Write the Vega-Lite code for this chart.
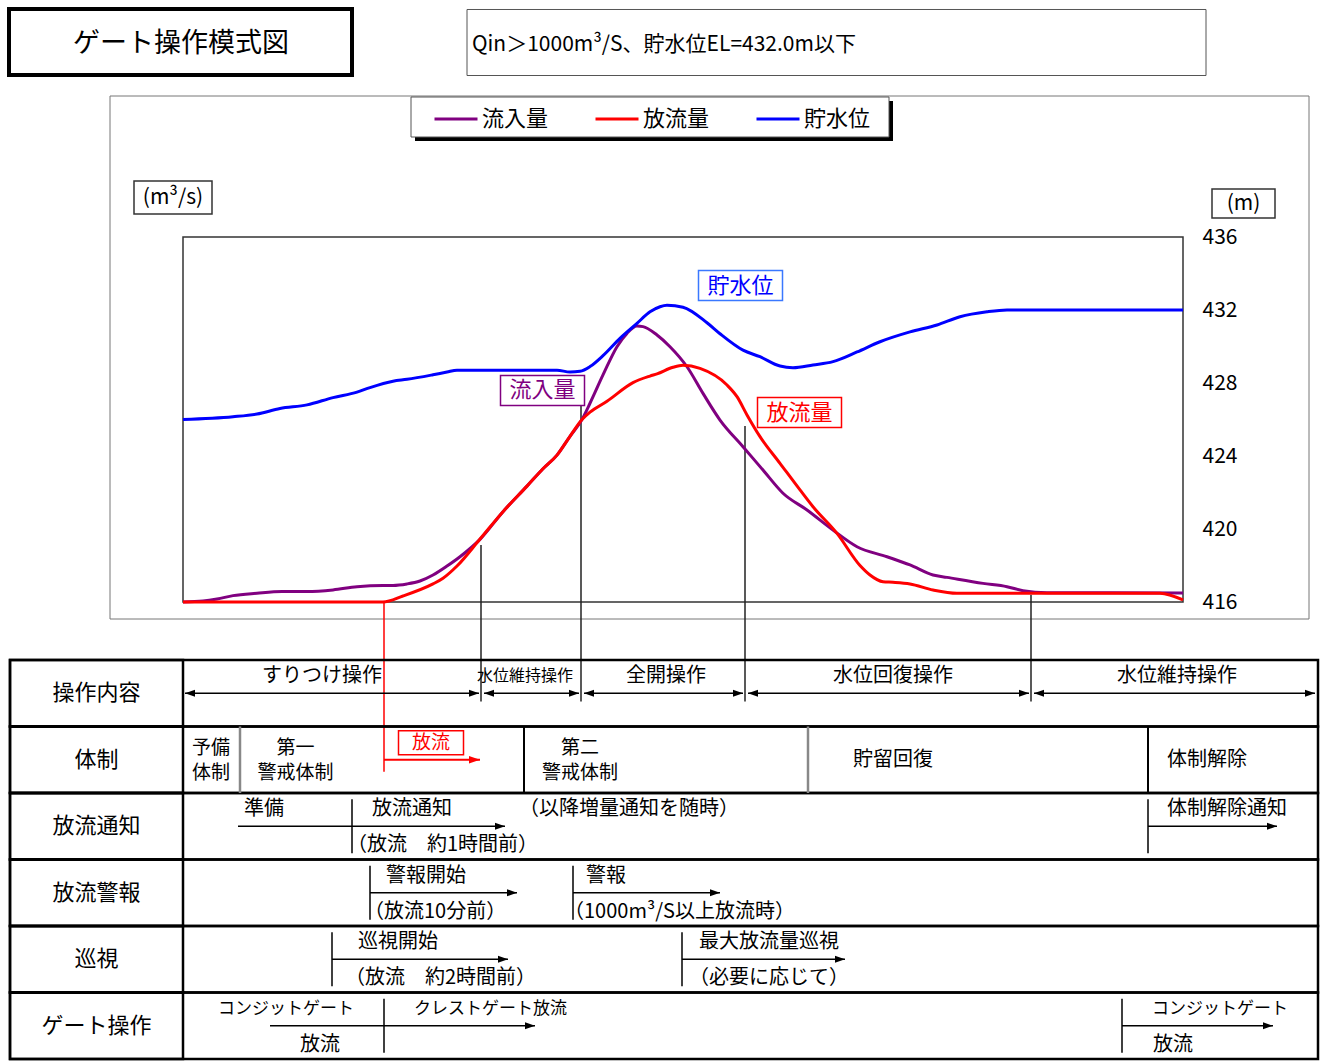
{
"$schema":"https://vega.github.io/schema/vega-lite/v6.json",
"usermeta":{"embedOptions":{"actions":false}},
"background":"white",
"width":1000,"height":365,
"autosize":{"type":"none"},
"padding":{"left":183,"top":237,"right":141,"bottom":459},
"view":{"stroke":"#333","strokeWidth":1.5},
"config":{"font":"Noto Sans CJK JP"},
"datasets":{
"flow":[
{"t":0,"q":0,"series":"流入量"},{"t":2.0,"q":5,"series":"流入量"},{"t":3.4,"q":16,"series":"流入量"},{"t":5.0,"q":35,"series":"流入量"},{"t":7.4,"q":48,"series":"流入量"},{"t":9.9,"q":57,"series":"流入量"},{"t":12.4,"q":57,"series":"流入量"},{"t":15.0,"q":66,"series":"流入量"},{"t":17.4,"q":84,"series":"流入量"},{"t":20.0,"q":91,"series":"流入量"},{"t":21.0,"q":91,"series":"流入量"},{"t":22.4,"q":99,"series":"流入量"},{"t":23.7,"q":115,"series":"流入量"},{"t":25.0,"q":148,"series":"流入量"},{"t":26.4,"q":197,"series":"流入量"},{"t":27.7,"q":248,"series":"流入量"},{"t":29.7,"q":343,"series":"流入量"},{"t":32.0,"q":495,"series":"流入量"},{"t":34.4,"q":635,"series":"流入量"},{"t":36.0,"q":730,"series":"流入量"},{"t":37.4,"q":805,"series":"流入量"},{"t":38.7,"q":908,"series":"流入量"},{"t":39.9,"q":1000,"series":"流入量"},{"t":40.7,"q":1089,"series":"流入量"},{"t":42.0,"q":1244,"series":"流入量"},{"t":43.4,"q":1399,"series":"流入量"},{"t":44.4,"q":1472,"series":"流入量"},{"t":45.4,"q":1512,"series":"流入量"},{"t":46.0,"q":1509,"series":"流入量"},{"t":47.4,"q":1463,"series":"流入量"},{"t":48.7,"q":1399,"series":"流入量"},{"t":50.4,"q":1289,"series":"流入量"},{"t":52.0,"q":1143,"series":"流入量"},{"t":53.7,"q":997,"series":"流入量"},{"t":56.0,"q":851,"series":"流入量"},{"t":58.0,"q":723,"series":"流入量"},{"t":60.0,"q":596,"series":"流入量"},{"t":62.4,"q":504,"series":"流入量"},{"t":65.0,"q":394,"series":"流入量"},{"t":67.4,"q":303,"series":"流入量"},{"t":70.4,"q":248,"series":"流入量"},{"t":72.7,"q":203,"series":"流入量"},{"t":75.0,"q":148,"series":"流入量"},{"t":76.4,"q":135,"series":"流入量"},{"t":80.0,"q":102,"series":"流入量"},{"t":82.4,"q":84,"series":"流入量"},{"t":84.0,"q":62,"series":"流入量"},{"t":86.4,"q":51,"series":"流入量"},{"t":100,"q":50,"series":"流入量"},
{"t":0,"q":0,"series":"放流量"},{"t":20.0,"q":0,"series":"放流量"},{"t":22.0,"q":33,"series":"放流量"},{"t":25.0,"q":99,"series":"放流量"},{"t":26.0,"q":130,"series":"放流量"},{"t":27.4,"q":197,"series":"放流量"},{"t":29.7,"q":345,"series":"放流量"},{"t":32.0,"q":495,"series":"放流量"},{"t":34.4,"q":635,"series":"放流量"},{"t":36.0,"q":730,"series":"放流量"},{"t":37.4,"q":805,"series":"放流量"},{"t":38.7,"q":908,"series":"放流量"},{"t":39.9,"q":1000,"series":"放流量"},{"t":40.7,"q":1040,"series":"放流量"},{"t":42.4,"q":1100,"series":"放流量"},{"t":45.0,"q":1202,"series":"放流量"},{"t":46.7,"q":1238,"series":"放流量"},{"t":47.4,"q":1250,"series":"放流量"},{"t":49.0,"q":1286,"series":"放流量"},{"t":50.0,"q":1297,"series":"放流量"},{"t":51.7,"q":1280,"series":"放流量"},{"t":54.4,"q":1189,"series":"放流量"},{"t":55.4,"q":1125,"series":"放流量"},{"t":56.4,"q":1025,"series":"放流量"},{"t":57.7,"q":906,"series":"放流量"},{"t":59.7,"q":760,"series":"放流量"},{"t":61.7,"q":614,"series":"放流量"},{"t":63.0,"q":522,"series":"放流量"},{"t":65.4,"q":376,"series":"放流量"},{"t":67.7,"q":200,"series":"放流量"},{"t":68.7,"q":148,"series":"放流量"},{"t":70.0,"q":111,"series":"放流量"},{"t":71.0,"q":108,"series":"放流量"},{"t":72.7,"q":99,"series":"放流量"},{"t":75.0,"q":66,"series":"放流量"},{"t":77.4,"q":48,"series":"放流量"},{"t":97.7,"q":48,"series":"放流量"},{"t":100,"q":11,"series":"放流量"}
],
"level":[
{"t":0,"h":426.0,"series":"貯水位"},{"t":5.0,"h":426.15,"series":"貯水位"},{"t":7.4,"h":426.3,"series":"貯水位"},{"t":9.7,"h":426.6,"series":"貯水位"},{"t":12.4,"h":426.8,"series":"貯水位"},{"t":15.0,"h":427.2,"series":"貯水位"},{"t":17.4,"h":427.5,"series":"貯水位"},{"t":18.7,"h":427.75,"series":"貯水位"},{"t":21.0,"h":428.1,"series":"貯水位"},{"t":22.4,"h":428.2,"series":"貯水位"},{"t":25.0,"h":428.45,"series":"貯水位"},{"t":26.4,"h":428.6,"series":"貯水位"},{"t":27.4,"h":428.7,"series":"貯水位"},{"t":37.4,"h":428.7,"series":"貯水位"},{"t":38.7,"h":428.6,"series":"貯水位"},{"t":39.7,"h":428.64,"series":"貯水位"},{"t":40.7,"h":428.9,"series":"貯水位"},{"t":42.0,"h":429.5,"series":"貯水位"},{"t":43.7,"h":430.45,"series":"貯水位"},{"t":45.4,"h":431.27,"series":"貯水位"},{"t":46.7,"h":431.9,"series":"貯水位"},{"t":47.7,"h":432.18,"series":"貯水位"},{"t":48.4,"h":432.26,"series":"貯水位"},{"t":50.0,"h":432.15,"series":"貯水位"},{"t":52.4,"h":431.3,"series":"貯水位"},{"t":53.7,"h":430.7,"series":"貯水位"},{"t":56.0,"h":429.8,"series":"貯水位"},{"t":57.7,"h":429.44,"series":"貯水位"},{"t":59.7,"h":428.93,"series":"貯水位"},{"t":61.0,"h":428.84,"series":"貯水位"},{"t":63.0,"h":428.99,"series":"貯水位"},{"t":65.0,"h":429.17,"series":"貯水位"},{"t":67.4,"h":429.7,"series":"貯水位"},{"t":69.7,"h":430.26,"series":"貯水位"},{"t":72.7,"h":430.8,"series":"貯水位"},{"t":75.4,"h":431.18,"series":"貯水位"},{"t":77.7,"h":431.63,"series":"貯水位"},{"t":80.4,"h":431.9,"series":"貯水位"},{"t":82.4,"h":432.0,"series":"貯水位"},{"t":100,"h":432.0,"series":"貯水位"}
],
"switches":[{"t":29.8,"q":312},{"t":39.8,"q":1096},{"t":56.2,"q":964},{"t":84.8,"q":40}],
"release":[{"t":20.1,"event":"放流開始"}],
"seriesLabels":[{"series":"貯水位","t":55.75,"q":1734},{"series":"流入量","t":35.95,"q":1159},{"series":"放流量","t":61.65,"q":1038}],
"rows":[{"row":"操作内容"},{"row":"体制"},{"row":"放流通知"},{"row":"放流警報"},{"row":"巡視"},{"row":"ゲート操作"}],
"arrows":[
{"row":"操作内容","t":0.2,"t2":29.6,"kind":"双方向"},
{"row":"操作内容","t":30.1,"t2":39.6,"kind":"双方向"},
{"row":"操作内容","t":40.1,"t2":56.0,"kind":"双方向"},
{"row":"操作内容","t":56.5,"t2":84.6,"kind":"双方向"},
{"row":"操作内容","t":85.1,"t2":113.2,"kind":"双方向"},
{"row":"放流通知","t":5.5,"t2":16.9,"kind":"線"},
{"row":"放流通知","t":16.9,"t2":32.2,"kind":"片方向"},
{"row":"放流通知","t":96.5,"t2":109.4,"kind":"片方向"},
{"row":"放流警報","t":18.7,"t2":33.4,"kind":"片方向"},
{"row":"放流警報","t":39.0,"t2":53.7,"kind":"片方向"},
{"row":"巡視","t":14.9,"t2":32.5,"kind":"片方向"},
{"row":"巡視","t":49.9,"t2":66.2,"kind":"片方向"},
{"row":"ゲート操作","t":8.7,"t2":20.1,"kind":"線"},
{"row":"ゲート操作","t":20.1,"t2":35.2,"kind":"片方向"},
{"row":"ゲート操作","t":93.9,"t2":109.0,"kind":"片方向"}
],
"markers":[{"row":"放流通知","t":16.9},{"row":"放流通知","t":96.5},{"row":"放流警報","t":18.7},{"row":"放流警報","t":39.0},{"row":"巡視","t":14.9},{"row":"巡視","t":49.9},{"row":"ゲート操作","t":20.1},{"row":"ゲート操作","t":93.9}],
"sepBlack":[{"row":"体制","t":34.1},{"row":"体制","t":96.5}],
"sepGray":[{"row":"体制","t":5.7},{"row":"体制","t":62.5}],
"releaseArrow":[{"row":"体制","t":20.1,"t2":29.7,"text":"放流","tl":24.8}],
"textStart":[
{"row":"放流通知","slot":"上","t":6.1,"text":"準備"},
{"row":"放流通知","slot":"上","t":18.9,"text":"放流通知"},
{"row":"放流通知","slot":"上","t":33.6,"text":"（以降増量通知を随時）"},
{"row":"放流通知","slot":"上","t":98.4,"text":"体制解除通知"},
{"row":"放流通知","slot":"下","t":16.4,"text":"（放流　約1時間前）"},
{"row":"放流警報","slot":"上","t":20.3,"text":"警報開始"},
{"row":"放流警報","slot":"下","t":18.1,"text":"（放流10分前）"},
{"row":"放流警報","slot":"上","t":40.3,"text":"警報"},
{"row":"放流警報","slot":"下","t":38.1,"text":"（1000m³/S以上放流時）"},
{"row":"巡視","slot":"上","t":17.5,"text":"巡視開始"},
{"row":"巡視","slot":"下","t":16.2,"text":"（放流　約2時間前）"},
{"row":"巡視","slot":"上","t":51.6,"text":"最大放流量巡視"},
{"row":"巡視","slot":"下","t":50.6,"text":"（必要に応じて）"},
{"row":"ゲート操作","slot":"上","t":23.1,"text":"クレストゲート放流"},
{"row":"ゲート操作","slot":"上","t":96.9,"text":"コンジットゲート"},
{"row":"ゲート操作","slot":"下","t":97.0,"text":"放流"},
{"row":"体制","slot":"中","t":98.4,"text":"体制解除"}
],
"textCenter":[
{"row":"操作内容","slot":"上","t":13.9,"text":"すりつけ操作"},
{"row":"操作内容","slot":"上","t":48.3,"text":"全開操作"},
{"row":"操作内容","slot":"上","t":71.0,"text":"水位回復操作"},
{"row":"操作内容","slot":"上","t":99.4,"text":"水位維持操作"},
{"row":"ゲート操作","slot":"上","t":10.3,"text":"コンジットゲート"},
{"row":"ゲート操作","slot":"下","t":13.7,"text":"放流"},
{"row":"体制","slot":"二行上","t":2.8,"text":"予備"},
{"row":"体制","slot":"二行下","t":2.8,"text":"体制"},
{"row":"体制","slot":"二行上","t":11.25,"text":"第一"},
{"row":"体制","slot":"二行下","t":11.25,"text":"警戒体制"},
{"row":"体制","slot":"二行上","t":39.7,"text":"第二"},
{"row":"体制","slot":"二行下","t":39.7,"text":"警戒体制"},
{"row":"体制","slot":"中","t":71.0,"text":"貯留回復"}
],
"textSmall":[{"row":"操作内容","t":34.2,"text":"水位維持操作"}]
},
"resolve":{"scale":{"y":"independent"}},
"layer":[
 {"layer":[
  {"data":{"values":[{"part":"題名枠"}]},
   "mark":{"type":"rect","filled":false,"color":"#000","strokeWidth":4},
   "encoding":{
    "x":{"datum":-17.4,"type":"quantitative","scale":{"domain":[0,100],"nice":false,"zero":false},"axis":null},
    "x2":{"datum":16.9},
    "y":{"datum":3249.3,"type":"quantitative","scale":{"domain":[0,2000],"nice":false,"zero":false},"axis":null},
    "y2":{"datum":2887.7}}},
  {"data":{"values":[{"heading":"ゲート操作模式図"}]},
   "mark":{"type":"text","fontSize":27,"color":"#000"},
   "encoding":{
    "x":{"datum":-0.2,"type":"quantitative","scale":{"domain":[0,100],"nice":false,"zero":false},"axis":null},
    "y":{"datum":3058,"type":"quantitative","scale":{"domain":[0,2000],"nice":false,"zero":false},"axis":null},
    "text":{"field":"heading"}}},
  {"data":{"values":[{"part":"条件枠"}]},
   "mark":{"type":"rect","filled":false,"color":"#555","strokeWidth":1},
   "encoding":{
    "x":{"datum":28.4,"type":"quantitative","scale":{"domain":[0,100],"nice":false,"zero":false},"axis":null},
    "x2":{"datum":102.3},
    "y":{"datum":3246.6,"type":"quantitative","scale":{"domain":[0,2000],"nice":false,"zero":false},"axis":null},
    "y2":{"datum":2884.9}}},
  {"data":{"values":[{"condition":"Qin＞1000m³/S、貯水位EL=432.0m以下"}]},
   "mark":{"type":"text","fontSize":21,"color":"#000","align":"left"},
   "encoding":{
    "x":{"datum":28.9,"type":"quantitative","scale":{"domain":[0,100],"nice":false,"zero":false},"axis":null},
    "y":{"datum":3052,"type":"quantitative","scale":{"domain":[0,2000],"nice":false,"zero":false},"axis":null},
    "text":{"field":"condition"}}},
  {"data":{"values":[{"part":"グラフ枠"}]},
   "mark":{"type":"rect","filled":false,"color":"#777","strokeWidth":1},
   "encoding":{
    "x":{"datum":-7.3,"type":"quantitative","scale":{"domain":[0,100],"nice":false,"zero":false},"axis":null},
    "x2":{"datum":112.6},
    "y":{"datum":2772.6,"type":"quantitative","scale":{"domain":[0,2000],"nice":false,"zero":false},"axis":null},
    "y2":{"datum":-93.2}}},
  {"data":{"name":"switches"},
   "mark":{"type":"rule","color":"#222","strokeWidth":1.5},
   "encoding":{
    "x":{"field":"t","type":"quantitative","scale":{"domain":[0,100],"nice":false,"zero":false},"axis":null},
    "y":{"field":"q","type":"quantitative","scale":{"domain":[0,2000],"nice":false,"zero":false},"axis":null},
    "y2":{"datum":-545}}},
  {"data":{"name":"release"},
   "mark":{"type":"rule","color":"#ff0000","strokeWidth":1.5},
   "encoding":{
    "x":{"field":"t","type":"quantitative","scale":{"domain":[0,100],"nice":false,"zero":false},"axis":null},
    "y":{"datum":-5,"type":"quantitative","scale":{"domain":[0,2000],"nice":false,"zero":false},"axis":null},
    "y2":{"datum":-930}}},
  {"data":{"name":"flow"},
   "mark":{"type":"line","strokeWidth":3,"interpolate":"monotone"},
   "encoding":{
    "x":{"field":"t","type":"quantitative","scale":{"domain":[0,100],"nice":false,"zero":false},"axis":null},
    "y":{"field":"q","type":"quantitative","scale":{"domain":[0,2000],"nice":false,"zero":false},
     "axis":{"orient":"left","values":[0,200,400,600,800,1000,1200,1400,1600,1800,2000],"title":null,"grid":true,"gridDash":[9,7],"gridColor":"#222","gridWidth":1,
      "gridOpacity":{"condition":{"test":"datum.value === 0 || datum.value === 2000","value":0},"value":1},
      "domain":false,"ticks":false,"tickSize":0,"labelFontSize":21,"labelColor":"#000","labelPadding":20}},
    "color":{"field":"series","type":"nominal","scale":{"domain":["流入量","放流量","貯水位"],"range":["#800080","#ff0000","#0000ff"]},
     "legend":{"orient":"none","legendX":250,"legendY":-141,"direction":"horizontal","title":null,"symbolType":"stroke","symbolSize":1849,"symbolStrokeWidth":3,"labelFontSize":22,"labelOffset":3,"columnPadding":40,"padding":0,"labelColor":"#000","labelLimit":200}}}},
  {"data":{"name":"seriesLabels"},
   "mark":{"type":"point","shape":"M-1,-0.357H1V0.357H-1Z","size":7056,"fill":"white","strokeWidth":1.5,"opacity":1},
   "encoding":{
    "x":{"field":"t","type":"quantitative","scale":{"domain":[0,100],"nice":false,"zero":false},"axis":null},
    "y":{"field":"q","type":"quantitative","scale":{"domain":[0,2000],"nice":false,"zero":false},"axis":null},
    "stroke":{"field":"series","type":"nominal","scale":{"domain":["流入量","放流量","貯水位"],"range":["#800080","#ff0000","#3a78ff"]},"legend":null}}},
  {"data":{"name":"seriesLabels"},
   "mark":{"type":"text","fontSize":22},
   "encoding":{
    "x":{"field":"t","type":"quantitative","scale":{"domain":[0,100],"nice":false,"zero":false},"axis":null},
    "y":{"field":"q","type":"quantitative","scale":{"domain":[0,2000],"nice":false,"zero":false},"axis":null},
    "text":{"field":"series"},
    "color":{"field":"series","type":"nominal","scale":{"domain":["流入量","放流量","貯水位"],"range":["#800080","#ff0000","#0000ff"]},"legend":null}}},
  {"data":{"values":[{"unit":"(m³/s)"}]},
   "mark":{"type":"rect","filled":false,"color":"#333","strokeWidth":1.5},
   "encoding":{
    "x":{"datum":-4.9,"type":"quantitative","scale":{"domain":[0,100],"nice":false,"zero":false},"axis":null},
    "x2":{"datum":2.9},
    "y":{"datum":2306.8,"type":"quantitative","scale":{"domain":[0,2000],"nice":false,"zero":false},"axis":null},
    "y2":{"datum":2126.0}}},
  {"data":{"values":[{"unit":"(m³/s)"}]},
   "mark":{"type":"text","fontSize":21,"color":"#000"},
   "encoding":{
    "x":{"datum":-1.0,"type":"quantitative","scale":{"domain":[0,100],"nice":false,"zero":false},"axis":null},
    "y":{"datum":2214,"type":"quantitative","scale":{"domain":[0,2000],"nice":false,"zero":false},"axis":null},
    "text":{"field":"unit"}}},
  {"data":{"values":[{"unit":"(m)"}]},
   "mark":{"type":"rect","filled":false,"color":"#333","strokeWidth":1.5},
   "encoding":{
    "x":{"datum":102.9,"type":"quantitative","scale":{"domain":[0,100],"nice":false,"zero":false},"axis":null},
    "x2":{"datum":109.2},
    "y":{"datum":2263,"type":"quantitative","scale":{"domain":[0,2000],"nice":false,"zero":false},"axis":null},
    "y2":{"datum":2104}}},
  {"data":{"values":[{"unit":"(m)"}]},
   "mark":{"type":"text","fontSize":21,"color":"#000"},
   "encoding":{
    "x":{"datum":106.05,"type":"quantitative","scale":{"domain":[0,100],"nice":false,"zero":false},"axis":null},
    "y":{"datum":2181,"type":"quantitative","scale":{"domain":[0,2000],"nice":false,"zero":false},"axis":null},
    "text":{"field":"unit"}}},
  {"data":{"values":[{"part":"凡例影"}]},
   "mark":{"type":"rect","color":"#000","opacity":1},
   "encoding":{
    "x":{"datum":23.2,"type":"quantitative","scale":{"domain":[0,100],"nice":false,"zero":false},"axis":null},
    "x2":{"datum":71.0},
    "y":{"datum":2745.2,"type":"quantitative","scale":{"domain":[0,2000],"nice":false,"zero":false},"axis":null},
    "y2":{"datum":2526.0}}},
  {"data":{"values":[{"part":"凡例枠"}]},
   "mark":{"type":"rect","fill":"white","stroke":"#555","strokeWidth":1,"opacity":1},
   "encoding":{
    "x":{"datum":22.8,"type":"quantitative","scale":{"domain":[0,100],"nice":false,"zero":false},"axis":null},
    "x2":{"datum":70.6},
    "y":{"datum":2767.1,"type":"quantitative","scale":{"domain":[0,2000],"nice":false,"zero":false},"axis":null},
    "y2":{"datum":2547.9}}}
 ]},
 {"data":{"name":"level"},
  "mark":{"type":"line","strokeWidth":3,"interpolate":"monotone"},
  "encoding":{
   "x":{"field":"t","type":"quantitative","scale":{"domain":[0,100],"nice":false,"zero":false},"axis":null},
   "y":{"field":"h","type":"quantitative","scale":{"domain":[416,436],"nice":false,"zero":false},
    "axis":{"orient":"right","values":[416,420,424,428,432,436],"title":null,"grid":false,"domain":false,"ticks":false,"tickSize":0,"labelFontSize":21,"labelColor":"#000","labelPadding":19}},
   "color":{"field":"series","type":"nominal","scale":{"domain":["流入量","放流量","貯水位"],"range":["#800080","#ff0000","#0000ff"]},"legend":null}}},
 {"layer":[
  {"data":{"name":"rows"},
   "mark":{"type":"rect","filled":false,"color":"#000","strokeWidth":2.5},
   "encoding":{
    "x":{"datum":-17.3,"type":"quantitative","scale":{"domain":[0,100],"nice":false,"zero":false},"axis":null},
    "x2":{"datum":113.5},
    "y":{"field":"row","type":"nominal","scale":{"type":"band","domain":["操作内容","体制","放流通知","放流警報","巡視","ゲート操作"],"range":[423,822],"paddingInner":0,"paddingOuter":0},"axis":null}}},
  {"data":{"name":"rows"},
   "mark":{"type":"rect","filled":false,"color":"#000","strokeWidth":2.5},
   "encoding":{
    "x":{"datum":-17.3,"type":"quantitative","scale":{"domain":[0,100],"nice":false,"zero":false},"axis":null},
    "x2":{"datum":0},
    "y":{"field":"row","type":"nominal","scale":{"type":"band","domain":["操作内容","体制","放流通知","放流警報","巡視","ゲート操作"],"range":[423,822],"paddingInner":0,"paddingOuter":0},"axis":null}}},
  {"data":{"name":"rows"},
   "mark":{"type":"text","fontSize":22,"color":"#000"},
   "encoding":{
    "x":{"datum":-8.66,"type":"quantitative","scale":{"domain":[0,100],"nice":false,"zero":false},"axis":null},
    "y":{"field":"row","type":"nominal","scale":{"type":"band","domain":["操作内容","体制","放流通知","放流警報","巡視","ゲート操作"],"range":[423,822],"paddingInner":0,"paddingOuter":0},"axis":null},
    "text":{"field":"row"}}},
  {"data":{"name":"arrows"},
   "mark":{"type":"rule","color":"#000","strokeWidth":1.5},
   "encoding":{
    "x":{"field":"t","type":"quantitative","scale":{"domain":[0,100],"nice":false,"zero":false},"axis":null},
    "x2":{"field":"t2"},
    "y":{"field":"row","type":"nominal","scale":{"type":"band","domain":["操作内容","体制","放流通知","放流警報","巡視","ゲート操作"],"range":[423,822],"paddingInner":0,"paddingOuter":0},"axis":null}}},
  {"data":{"name":"arrows"},
   "transform":[{"filter":"datum.kind !== '線'"}],
   "mark":{"type":"point","shape":"M-2,-0.7L0,0L-2,0.7Z","size":100,"filled":true,"color":"#000","opacity":1,"strokeWidth":0},
   "encoding":{
    "x":{"field":"t2","type":"quantitative","scale":{"domain":[0,100],"nice":false,"zero":false},"axis":null},
    "y":{"field":"row","type":"nominal","scale":{"type":"band","domain":["操作内容","体制","放流通知","放流警報","巡視","ゲート操作"],"range":[423,822],"paddingInner":0,"paddingOuter":0},"axis":null}}},
  {"data":{"name":"arrows"},
   "transform":[{"filter":"datum.kind === '双方向'"}],
   "mark":{"type":"point","shape":"M2,-0.7L0,0L2,0.7Z","size":100,"filled":true,"color":"#000","opacity":1,"strokeWidth":0},
   "encoding":{
    "x":{"field":"t","type":"quantitative","scale":{"domain":[0,100],"nice":false,"zero":false},"axis":null},
    "y":{"field":"row","type":"nominal","scale":{"type":"band","domain":["操作内容","体制","放流通知","放流警報","巡視","ゲート操作"],"range":[423,822],"paddingInner":0,"paddingOuter":0},"axis":null}}},
  {"data":{"name":"markers"},
   "mark":{"type":"tick","orient":"vertical","size":54,"thickness":1.5,"color":"#000","opacity":1},
   "encoding":{
    "x":{"field":"t","type":"quantitative","scale":{"domain":[0,100],"nice":false,"zero":false},"axis":null},
    "y":{"field":"row","type":"nominal","scale":{"type":"band","domain":["操作内容","体制","放流通知","放流警報","巡視","ゲート操作"],"range":[423,822],"paddingInner":0,"paddingOuter":0},"axis":null}}},
  {"data":{"name":"sepBlack"},
   "mark":{"type":"tick","orient":"vertical","size":66.5,"thickness":2,"color":"#000","opacity":1},
   "encoding":{
    "x":{"field":"t","type":"quantitative","scale":{"domain":[0,100],"nice":false,"zero":false},"axis":null},
    "y":{"field":"row","type":"nominal","scale":{"type":"band","domain":["操作内容","体制","放流通知","放流警報","巡視","ゲート操作"],"range":[423,822],"paddingInner":0,"paddingOuter":0},"axis":null}}},
  {"data":{"name":"sepGray"},
   "mark":{"type":"tick","orient":"vertical","size":66.5,"thickness":2.5,"color":"#888","opacity":1},
   "encoding":{
    "x":{"field":"t","type":"quantitative","scale":{"domain":[0,100],"nice":false,"zero":false},"axis":null},
    "y":{"field":"row","type":"nominal","scale":{"type":"band","domain":["操作内容","体制","放流通知","放流警報","巡視","ゲート操作"],"range":[423,822],"paddingInner":0,"paddingOuter":0},"axis":null}}},
  {"data":{"name":"releaseArrow"},
   "mark":{"type":"rule","color":"#ff0000","strokeWidth":2},
   "encoding":{
    "x":{"field":"t","type":"quantitative","scale":{"domain":[0,100],"nice":false,"zero":false},"axis":null},
    "x2":{"field":"t2"},
    "y":{"field":"row","type":"nominal","scale":{"type":"band","domain":["操作内容","体制","放流通知","放流警報","巡視","ゲート操作"],"range":[423,822],"paddingInner":0,"paddingOuter":0},"axis":null}}},
  {"data":{"name":"releaseArrow"},
   "mark":{"type":"point","shape":"M-2,-0.7L0,0L-2,0.7Z","size":121,"filled":true,"color":"#ff0000","opacity":1,"strokeWidth":0},
   "encoding":{
    "x":{"field":"t2","type":"quantitative","scale":{"domain":[0,100],"nice":false,"zero":false},"axis":null},
    "y":{"field":"row","type":"nominal","scale":{"type":"band","domain":["操作内容","体制","放流通知","放流警報","巡視","ゲート操作"],"range":[423,822],"paddingInner":0,"paddingOuter":0},"axis":null}}},
  {"data":{"name":"releaseArrow"},
   "mark":{"type":"point","shape":"M-1,-0.892H1V-0.154H-1Z","size":4225,"fill":"white","stroke":"#ff0000","strokeWidth":1.5,"opacity":1},
   "encoding":{
    "x":{"field":"tl","type":"quantitative","scale":{"domain":[0,100],"nice":false,"zero":false},"axis":null},
    "y":{"field":"row","type":"nominal","scale":{"type":"band","domain":["操作内容","体制","放流通知","放流警報","巡視","ゲート操作"],"range":[423,822],"paddingInner":0,"paddingOuter":0},"axis":null}}},
  {"data":{"name":"releaseArrow"},
   "mark":{"type":"text","fontSize":19,"color":"#ff0000","dy":-17},
   "encoding":{
    "x":{"field":"tl","type":"quantitative","scale":{"domain":[0,100],"nice":false,"zero":false},"axis":null},
    "y":{"field":"row","type":"nominal","scale":{"type":"band","domain":["操作内容","体制","放流通知","放流警報","巡視","ゲート操作"],"range":[423,822],"paddingInner":0,"paddingOuter":0},"axis":null},
    "text":{"field":"text"}}},
  {"data":{"name":"textStart"},
   "transform":[{"filter":"datum.slot === '上' && datum.row !== 'ゲート操作'"}],
   "mark":{"type":"text","align":"left","fontSize":20,"dy":-17,"color":"#000"},
   "encoding":{
    "x":{"field":"t","type":"quantitative","scale":{"domain":[0,100],"nice":false,"zero":false},"axis":null},
    "y":{"field":"row","type":"nominal","scale":{"type":"band","domain":["操作内容","体制","放流通知","放流警報","巡視","ゲート操作"],"range":[423,822],"paddingInner":0,"paddingOuter":0},"axis":null},
    "text":{"field":"text"}}},
  {"data":{"name":"textStart"},
   "transform":[{"filter":"datum.slot === '上' && datum.row === 'ゲート操作'"}],
   "mark":{"type":"text","align":"left","fontSize":17,"dy":-17,"color":"#000"},
   "encoding":{
    "x":{"field":"t","type":"quantitative","scale":{"domain":[0,100],"nice":false,"zero":false},"axis":null},
    "y":{"field":"row","type":"nominal","scale":{"type":"band","domain":["操作内容","体制","放流通知","放流警報","巡視","ゲート操作"],"range":[423,822],"paddingInner":0,"paddingOuter":0},"axis":null},
    "text":{"field":"text"}}},
  {"data":{"name":"textStart"},
   "transform":[{"filter":"datum.slot === '下'"}],
   "mark":{"type":"text","align":"left","fontSize":20,"dy":19,"color":"#000"},
   "encoding":{
    "x":{"field":"t","type":"quantitative","scale":{"domain":[0,100],"nice":false,"zero":false},"axis":null},
    "y":{"field":"row","type":"nominal","scale":{"type":"band","domain":["操作内容","体制","放流通知","放流警報","巡視","ゲート操作"],"range":[423,822],"paddingInner":0,"paddingOuter":0},"axis":null},
    "text":{"field":"text"}}},
  {"data":{"name":"textStart"},
   "transform":[{"filter":"datum.slot === '中'"}],
   "mark":{"type":"text","align":"left","fontSize":20,"color":"#000"},
   "encoding":{
    "x":{"field":"t","type":"quantitative","scale":{"domain":[0,100],"nice":false,"zero":false},"axis":null},
    "y":{"field":"row","type":"nominal","scale":{"type":"band","domain":["操作内容","体制","放流通知","放流警報","巡視","ゲート操作"],"range":[423,822],"paddingInner":0,"paddingOuter":0},"axis":null},
    "text":{"field":"text"}}},
  {"data":{"name":"textCenter"},
   "transform":[{"filter":"datum.slot === '上' && datum.row !== 'ゲート操作'"}],
   "mark":{"type":"text","align":"center","fontSize":20,"dy":-17,"color":"#000"},
   "encoding":{
    "x":{"field":"t","type":"quantitative","scale":{"domain":[0,100],"nice":false,"zero":false},"axis":null},
    "y":{"field":"row","type":"nominal","scale":{"type":"band","domain":["操作内容","体制","放流通知","放流警報","巡視","ゲート操作"],"range":[423,822],"paddingInner":0,"paddingOuter":0},"axis":null},
    "text":{"field":"text"}}},
  {"data":{"name":"textCenter"},
   "transform":[{"filter":"datum.slot === '上' && datum.row === 'ゲート操作'"}],
   "mark":{"type":"text","align":"center","fontSize":17,"dy":-17,"color":"#000"},
   "encoding":{
    "x":{"field":"t","type":"quantitative","scale":{"domain":[0,100],"nice":false,"zero":false},"axis":null},
    "y":{"field":"row","type":"nominal","scale":{"type":"band","domain":["操作内容","体制","放流通知","放流警報","巡視","ゲート操作"],"range":[423,822],"paddingInner":0,"paddingOuter":0},"axis":null},
    "text":{"field":"text"}}},
  {"data":{"name":"textCenter"},
   "transform":[{"filter":"datum.slot === '下'"}],
   "mark":{"type":"text","align":"center","fontSize":20,"dy":19,"color":"#000"},
   "encoding":{
    "x":{"field":"t","type":"quantitative","scale":{"domain":[0,100],"nice":false,"zero":false},"axis":null},
    "y":{"field":"row","type":"nominal","scale":{"type":"band","domain":["操作内容","体制","放流通知","放流警報","巡視","ゲート操作"],"range":[423,822],"paddingInner":0,"paddingOuter":0},"axis":null},
    "text":{"field":"text"}}},
  {"data":{"name":"textCenter"},
   "transform":[{"filter":"datum.slot === '中'"}],
   "mark":{"type":"text","align":"center","fontSize":20,"color":"#000"},
   "encoding":{
    "x":{"field":"t","type":"quantitative","scale":{"domain":[0,100],"nice":false,"zero":false},"axis":null},
    "y":{"field":"row","type":"nominal","scale":{"type":"band","domain":["操作内容","体制","放流通知","放流警報","巡視","ゲート操作"],"range":[423,822],"paddingInner":0,"paddingOuter":0},"axis":null},
    "text":{"field":"text"}}},
  {"data":{"name":"textCenter"},
   "transform":[{"filter":"datum.slot === '二行上'"}],
   "mark":{"type":"text","align":"center","fontSize":19,"color":"#000","dy":-12},
   "encoding":{
    "x":{"field":"t","type":"quantitative","scale":{"domain":[0,100],"nice":false,"zero":false},"axis":null},
    "y":{"field":"row","type":"nominal","scale":{"type":"band","domain":["操作内容","体制","放流通知","放流警報","巡視","ゲート操作"],"range":[423,822],"paddingInner":0,"paddingOuter":0},"axis":null},
    "text":{"field":"text"}}},
  {"data":{"name":"textCenter"},
   "transform":[{"filter":"datum.slot === '二行下'"}],
   "mark":{"type":"text","align":"center","fontSize":19,"color":"#000","dy":13},
   "encoding":{
    "x":{"field":"t","type":"quantitative","scale":{"domain":[0,100],"nice":false,"zero":false},"axis":null},
    "y":{"field":"row","type":"nominal","scale":{"type":"band","domain":["操作内容","体制","放流通知","放流警報","巡視","ゲート操作"],"range":[423,822],"paddingInner":0,"paddingOuter":0},"axis":null},
    "text":{"field":"text"}}},
  {"data":{"name":"textSmall"},
   "mark":{"type":"text","align":"center","fontSize":16,"dy":-17,"color":"#000"},
   "encoding":{
    "x":{"field":"t","type":"quantitative","scale":{"domain":[0,100],"nice":false,"zero":false},"axis":null},
    "y":{"field":"row","type":"nominal","scale":{"type":"band","domain":["操作内容","体制","放流通知","放流警報","巡視","ゲート操作"],"range":[423,822],"paddingInner":0,"paddingOuter":0},"axis":null},
    "text":{"field":"text"}}}
 ]}
]
}
